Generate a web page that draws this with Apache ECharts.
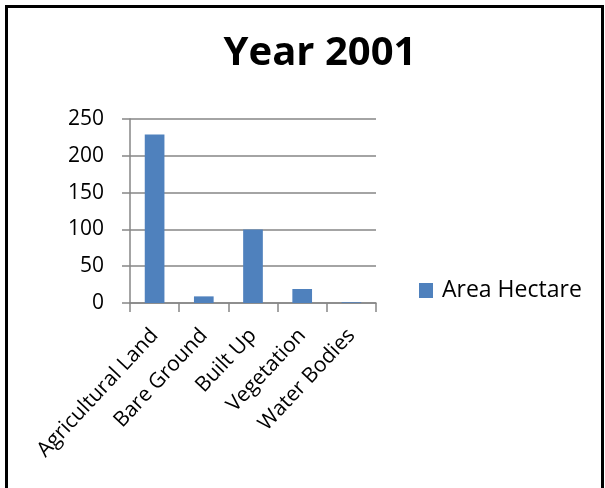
<!DOCTYPE html>
<html>
<head>
<meta charset="utf-8">
<script src="https://cdn.jsdelivr.net/npm/echarts@6/dist/echarts.min.js"></script>
<style>
  html, body { margin: 0; padding: 0; background: #fff; }
  #chart { width: 605px; height: 488px; }
</style>
</head>
<body>
<div id="chart"></div>
<script>
// Land-cover areas for 2001
const categories = ['Agricultural Land', 'Bare Ground', 'Built Up', 'Vegetation', 'Water Bodies'];
const areaHectare = [229, 9, 100, 19, 1];
const yTicks = [0, 50, 100, 150, 200, 250];

const font = '"Open Sans", "Noto Sans", sans-serif';
const chart = echarts.init(document.getElementById('chart'), null, { renderer: 'canvas' });

chart.setOption({
  animation: false,
  backgroundColor: '#ffffff',
  title: {
    text: 'Year 2001',
    left: 315,
    textAlign: 'center',
    top: 29,
    textStyle: { fontFamily: font, fontWeight: 'bold', fontSize: 40, color: '#000' }
  },
  legend: {
    data: ['Area Hectare'],
    left: 414,
    top: 274,
    icon: 'rect',
    itemWidth: 14,
    itemHeight: 15,
    itemGap: 8,
    textStyle: { fontFamily: font, fontSize: 23, color: '#000', padding: [0, 0, 0, 4] }
  },
  grid: { left: 130, top: 119, right: 229, bottom: 185, containLabel: false },
  xAxis: {
    type: 'category',
    data: categories,
    axisLine: { lineStyle: { color: '#868686', width: 1.5 } },
    axisTick: { show: true, alignWithLabel: false, length: 9, lineStyle: { color: '#868686', width: 1.5 } },
    axisLabel: {
      rotate: 47,
      interval: 0,
      margin: 29,
      padding: [8, 0, 0, 0],
      fontFamily: font,
      fontSize: 21,
      color: '#000'
    }
  },
  yAxis: {
    type: 'value',
    min: yTicks[0],
    max: yTicks[yTicks.length - 1],
    interval: 50,
    axisLine: { show: true, lineStyle: { color: '#868686', width: 1.5 } },
    axisTick: { show: true, inside: false, length: 8, lineStyle: { color: '#868686', width: 1.5 } },
    splitLine: { show: true, lineStyle: { color: '#868686', width: 1.5 } },
    axisLabel: { margin: 26, fontFamily: font, fontSize: 21, color: '#000' }
  },
  series: [{
    name: 'Area Hectare',
    type: 'bar',
    data: areaHectare,
    barWidth: '40%',
    itemStyle: { color: '#4F81BD' }
  }],
  graphic: [{
    type: 'rect',
    shape: { x: 6.5, y: 6.5, width: 596, height: 520 },
    style: { fill: 'none', stroke: '#000', lineWidth: 3 },
    z: 100
  }]
});
</script>
</body>
</html>
